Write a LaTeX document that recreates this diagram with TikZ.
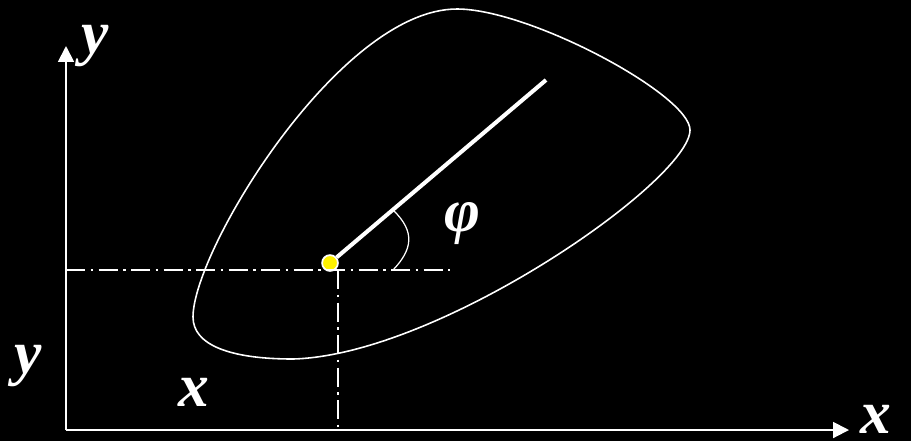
\documentclass[tikz,border=0pt]{standalone}
\usepackage{fontspec}
\setmainfont{Liberation Serif}
\usetikzlibrary{positioning,calc,arrows.meta}

\begin{document}
\begin{tikzpicture}[x=0.02cm,y=-0.02cm,
    axis/.style={-{Triangle[length=9pt,width=9pt]},white,line width=1.1pt},
    guide/.style={white,line width=0.9pt,dash pattern=on 11pt off 3pt on 1.5pt off 3pt},
    lbl/.style={text=white,font=\fontsize{35}{40}\selectfont\bfseries\itshape,inner sep=0pt},
    pin/.style={circle,fill=yellow,draw=white,line width=1pt,minimum size=9pt,inner sep=0pt}]

% Fond
\useasboundingbox (0,0) rectangle (911,441);
\fill[black] (0,0) rectangle (911,441);

% Axes
\coordinate (O) at (66,430);
\coordinate (ytip) at (66,46);
\coordinate (xtip) at (849,430);
\draw[axis] (O) -- (ytip);
\draw[axis] (O) -- (xtip);
\node[lbl] (ytop) at (95,46) {y};
\node[lbl] (xright) at (876,419) {x};

% Contour du corps
\draw[white,line width=0.9pt] (457,9)
    .. controls (530,9) and (690,95) .. (690,130)
    .. controls (690,180) and (440,355) .. (293,359)
    .. controls (230,359) and (193,345) .. (193,317)
    .. controls (193,250) and (340,9) .. cycle;

% Point et lignes de rappel
\node[pin] (G) at (330,263) {};
\coordinate (hend) at (450,270);
\coordinate (hstart) at (66,270);
\coordinate (vfoot) at (338,430);
\draw[guide] (hstart) -- (hend);
\draw[guide] (338,270) -- (vfoot);
\node[lbl] (yleft) at (28,366) {y};
\node[lbl] (xlow) at (194,392) {x};

% Segment et angle
\coordinate (tip) at (546,80);
\draw[white,line width=2.3pt] (G) -- (tip);
\coordinate (a1) at (393,210);
\coordinate (a2) at (393,270);
\draw[white,line width=0.7pt] (a1) .. controls (416,232) and (412,250) .. (a2);
\node[lbl] (phi) at (462,224) {φ};

\end{tikzpicture}
\end{document}
